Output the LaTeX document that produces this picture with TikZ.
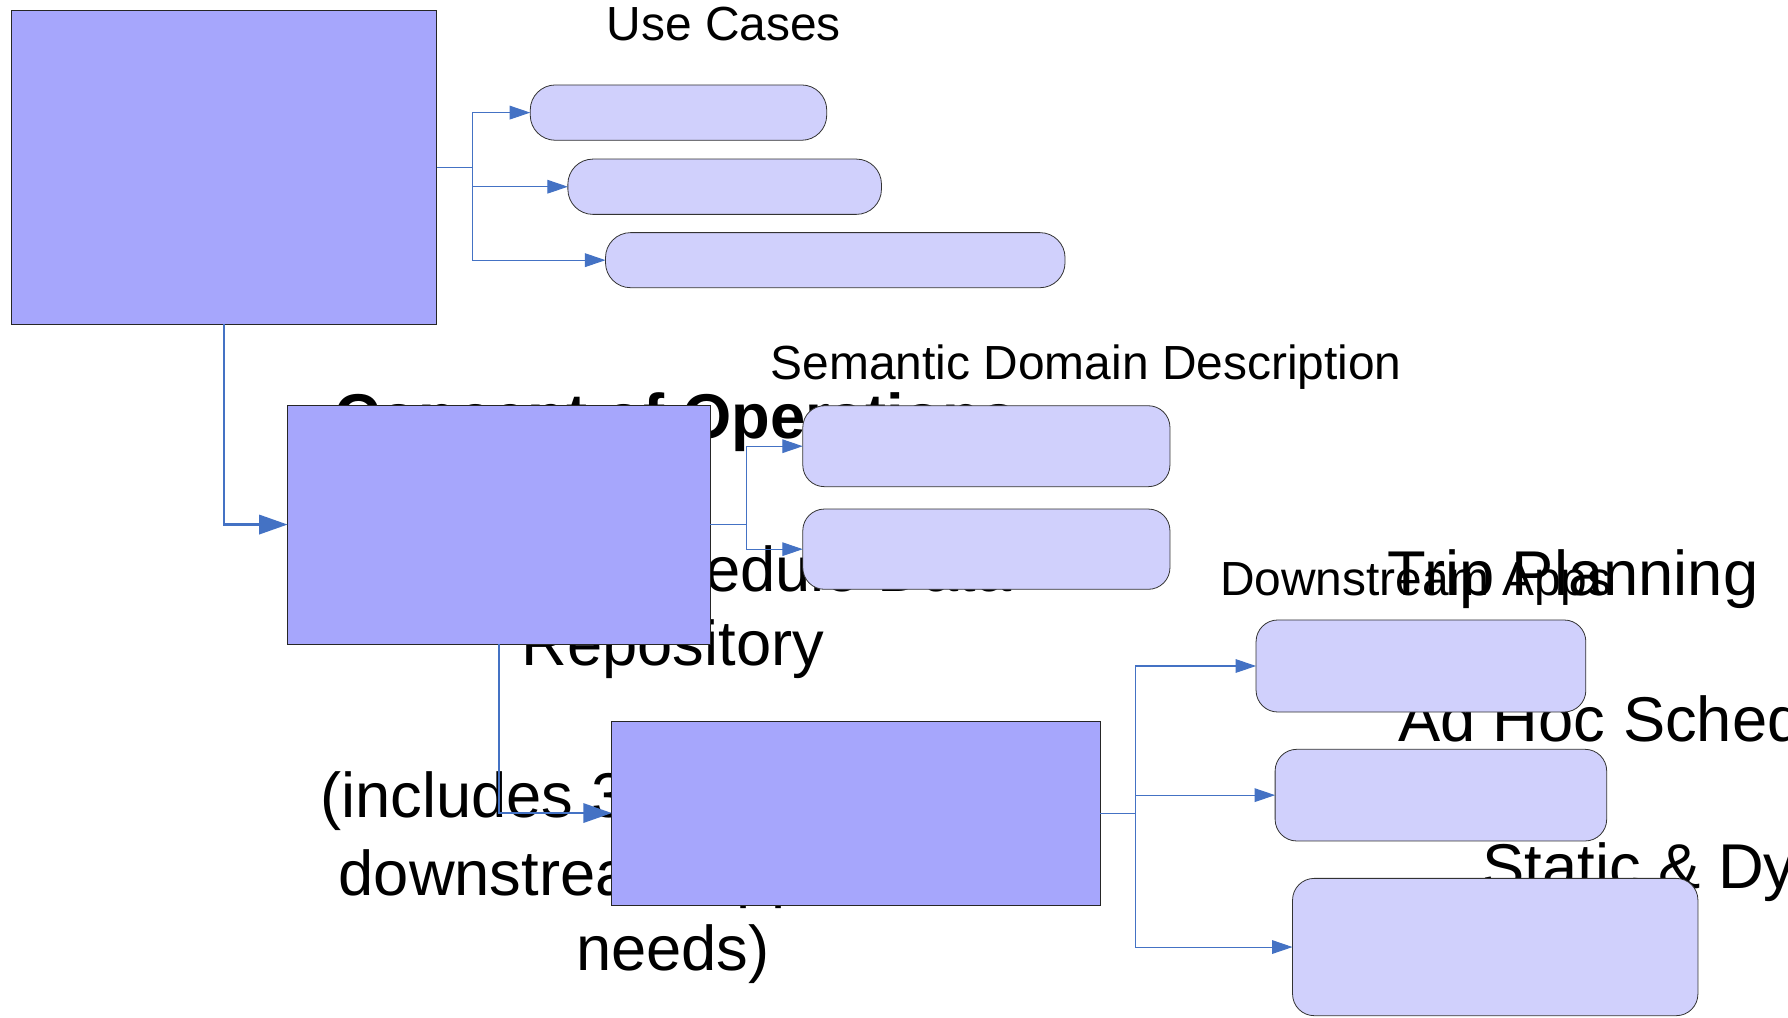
\documentclass[tikz,border=0pt]{standalone}
\usepackage{fontspec}
\setmainfont{Liberation Sans}
\usetikzlibrary{arrows.meta}
\definecolor{boxfill}{RGB}{166,166,252}
\definecolor{pillfill}{RGB}{208,208,252}
\definecolor{connblue}{RGB}{68,114,196}
\tikzset{
  bigbox/.style={draw=black!85, line width=0.7pt, fill=boxfill, rectangle, inner sep=0pt, outer sep=0pt},
  pill/.style={draw=black!80, line width=0.7pt, fill=pillfill, rectangle, rounded corners=#1, inner sep=0pt, outer sep=0pt},
  pill/.default=19pt,
  conn/.style={draw=connblue, line width=0.9pt, -{Triangle[length=18pt,width=12pt]}},
  thickconn/.style={draw=connblue, line width=2.1pt, -{Triangle[length=25pt,width=17pt]}},
  lbl/.style={inner sep=0pt, outer sep=0pt, font=\fontsize{42}{50}\selectfont},
  big/.style={inner sep=0pt, outer sep=0pt, font=\fontsize{55.5}{66}\selectfont},
}
\begin{document}
\begin{tikzpicture}[x=1pt,y=-1pt]
\useasboundingbox (0,0) rectangle (1568,892);
\clip (0,0) rectangle (1568,892);
\fill[white] (0,0) rectangle (1568,892);

% labels
\node[lbl, anchor=base west] (ucl) at (532,35.7) {Use Cases};
\node[lbl, anchor=base west] (sdl) at (676,333) {Semantic Domain Description};
\node[lbl, anchor=base west] (dal) at (1070,522) {Downstream Apps};

% overflowing texts (partly hidden by boxes)
\node[big, anchor=base west, font=\fontsize{55.5}{66}\selectfont\bfseries] (t1) at (293,384.5) {Concept of Operations};
\node[big, anchor=base east] (t2) at (887,519) {Schedule Data};
\node[big, anchor=base] (t3) at (590,584) {Repository};
\node[big, anchor=base west] (t4) at (281,717) {(includes 3};
\node[big, anchor=base west] (t5) at (297,785) {downstream application};
\node[big, anchor=base] (t6) at (590,851) {needs)};

\node[big, anchor=base west] (r1) at (1217,522) {Trip Planning};
\node[big, anchor=base west] (r2) at (1226,650.5) {Ad Hoc Scheduling};
\node[big, anchor=base west] (r3) at (1300,779) {Static \& Dynamic};

% boxes
\node[bigbox, minimum width=373pt, minimum height=275pt] (A) at (196.5,147) {};
\node[pill=22pt, minimum width=260pt, minimum height=48.5pt] (U1) at (595,98.75) {};
\node[pill=22pt, minimum width=275pt, minimum height=48.5pt] (U2) at (635.5,163.75) {};
\node[pill=22pt, minimum width=403pt, minimum height=48.3pt] (U3) at (732.5,228.15) {};

\node[bigbox, minimum width=370.8pt, minimum height=209.6pt] (B) at (437.6,460) {};
\node[pill, minimum width=322pt, minimum height=71pt] (SD1) at (865,391.3) {};
\node[pill, minimum width=322pt, minimum height=70.4pt] (SD2) at (865,481.6) {};

\node[bigbox, minimum width=428.2pt, minimum height=161.4pt] (C) at (750.6,713) {};
\node[pill, minimum width=289.2pt, minimum height=80.7pt] (R1) at (1246.1,584.05) {};
\node[pill, minimum width=290.8pt, minimum height=80.4pt] (R2) at (1263.6,697.3) {};
\node[pill, minimum width=355.5pt, minimum height=120.4pt] (R3) at (1311.25,830.5) {};

% connectors
\draw[conn] (A.east) -- ++(31.4,0) coordinate (ja) |- (U1.west);
\draw[conn] (ja) |- (U2.west);
\draw[conn] (ja) |- (U3.west);

\draw[conn] (B.east) -- ++(32,0) coordinate (jb) |- (SD1.west);
\draw[conn] (jb) |- (SD2.west);

\draw[conn] (C.east) -- ++(31.3,0) coordinate (jc) |- (R1.west);
\draw[conn] (jc) |- (R2.west);
\draw[conn] (jc) |- (R3.west);

\draw[thickconn] (A.south) |- (B.west);
\draw[thickconn] (B.south) |- (C.west);
\end{tikzpicture}
\end{document}
